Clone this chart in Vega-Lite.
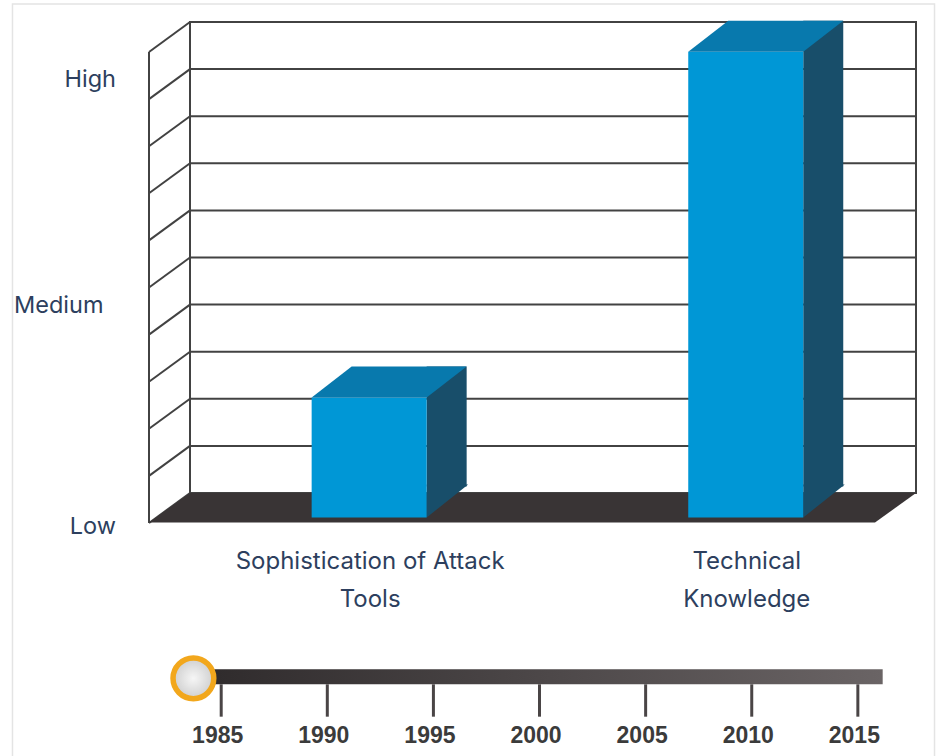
{
  "$schema": "https://vega.github.io/schema/vega-lite/v6.json",
  "width": 726,
  "height": 471,
  "autosize": {"type": "none"},
  "padding": {"left": 190, "top": 22, "right": 21, "bottom": 263},
  "background": "#ffffff",
  "config": {"view": {"stroke": "#424242", "strokeWidth": 2}},
  "datasets": {
    "bars": [
      {"category": "Sophistication of Attack Tools", "label": "Sophistication of Attack\nTools", "value": 2.55},
      {"category": "Technical Knowledge", "label": "Technical\nKnowledge", "value": 9.89}
    ],
    "levels": [
      {"level": 0}, {"level": 1}, {"level": 2}, {"level": 3}, {"level": 4}, {"level": 5},
      {"level": 6}, {"level": 7}, {"level": 8}, {"level": 9}, {"level": 10}
    ],
    "years": [
      {"year": 1985}, {"year": 1990}, {"year": 1995}, {"year": 2000},
      {"year": 2005}, {"year": 2010}, {"year": 2015}
    ],
    "edgeLabels": [
      {"label": "High", "level": 8.77},
      {"label": "Low", "level": -0.72}
    ],
    "midLabel": [
      {"label": "Medium", "level": 3.97}
    ]
  },
  "resolve": {"scale": {"x": "independent"}, "axis": {"x": "independent"}},
  "layer": [
    {
      "layer": [
        {
          "data": {"values": [{}]},
          "mark": {"type": "rect", "fill": null, "fillOpacity": 0, "stroke": "#e4e4e4", "strokeWidth": 1.5},
          "encoding": {
            "x": {"datum": -0.2445, "type": "quantitative", "scale": {"domain": [0, 1], "nice": false, "zero": false}, "axis": null},
            "x2": {"datum": 1.0255},
            "y": {"datum": 10.382, "type": "quantitative", "scale": {"domain": [0, 10], "nice": false, "zero": false}, "axis": null},
            "y2": {"datum": -6}
          }
        },
        {
          "data": {"name": "levels"},
          "mark": {"type": "rule", "color": "#424242", "strokeWidth": 2},
          "encoding": {
            "x": {"datum": 0, "type": "quantitative", "scale": {"domain": [0, 1], "nice": false, "zero": false}, "axis": null},
            "x2": {"datum": 1},
            "y": {"field": "level", "type": "quantitative", "scale": {"domain": [0, 10], "nice": false, "zero": false}, "axis": null}
          }
        },
        {
          "data": {"name": "levels"},
          "mark": {"type": "rule", "color": "#424242", "strokeWidth": 2, "x2Offset": -41, "y2Offset": 30},
          "encoding": {
            "x": {"datum": 0, "type": "quantitative", "scale": {"domain": [0, 1], "nice": false, "zero": false}, "axis": null},
            "x2": {"datum": 0},
            "y": {"field": "level", "type": "quantitative", "scale": {"domain": [0, 10], "nice": false, "zero": false}, "axis": null},
            "y2": {"field": "level"}
          }
        },
        {
          "data": {"values": [{}]},
          "mark": {"type": "rule", "color": "#424242", "strokeWidth": 2, "xOffset": -41, "yOffset": 30, "y2Offset": 30},
          "encoding": {
            "x": {"datum": 0, "type": "quantitative", "scale": {"domain": [0, 1], "nice": false, "zero": false}, "axis": null},
            "y": {"datum": 10, "type": "quantitative", "scale": {"domain": [0, 10], "nice": false, "zero": false}, "axis": null},
            "y2": {"datum": 0}
          }
        },
        {
          "data": {"values": [{}]},
          "mark": {"type": "point", "shape": "M0,0 L726,0 L685,29.5 L-41,29.5 Z", "size": 4, "filled": true, "opacity": 1, "color": "#393435", "strokeWidth": 0},
          "encoding": {
            "x": {"datum": 0, "type": "quantitative", "scale": {"domain": [0, 1], "nice": false, "zero": false}, "axis": null},
            "y": {"datum": 0, "type": "quantitative", "scale": {"domain": [0, 10], "nice": false, "zero": false}, "axis": null}
          }
        },
        {
          "data": {"name": "edgeLabels"},
          "mark": {"type": "text", "align": "right", "baseline": "middle", "font": "Inter", "fontSize": 23.5, "color": "#2d3f5e"},
          "encoding": {
            "x": {"datum": -0.1019, "type": "quantitative", "scale": {"domain": [0, 1], "nice": false, "zero": false}, "axis": null},
            "y": {"field": "level", "type": "quantitative", "scale": {"domain": [0, 10], "nice": false, "zero": false}, "axis": null},
            "text": {"field": "label"}
          }
        },
        {
          "data": {"name": "midLabel"},
          "mark": {"type": "text", "align": "right", "baseline": "middle", "font": "Inter", "fontSize": 23.5, "color": "#2d3f5e"},
          "encoding": {
            "x": {"datum": -0.1191, "type": "quantitative", "scale": {"domain": [0, 1], "nice": false, "zero": false}, "axis": null},
            "y": {"field": "level", "type": "quantitative", "scale": {"domain": [0, 10], "nice": false, "zero": false}, "axis": null},
            "text": {"field": "label"}
          }
        }
      ]
    },
    {
      "data": {"name": "bars"},
      "layer": [
        {
          "mark": {"type": "bar", "width": 40, "xOffset": 77.5, "yOffset": -6.5, "y2Offset": -6.5, "color": "#184e6a"},
          "encoding": {
            "x": {"field": "category", "type": "nominal", "scale": {"domain": ["Sophistication of Attack Tools", "Technical Knowledge"], "paddingInner": 0.6946, "paddingOuter": 0.3112, "align": 0.519}, "axis": null},
            "y": {"field": "value", "type": "quantitative", "scale": {"domain": [0, 10], "nice": false, "zero": false}, "axis": null},
            "y2": {"datum": 0}
          }
        },
        {
          "mark": {"type": "point", "shape": "M57.5,0 L57.5,-33 L99,-33 Z", "size": 4, "filled": true, "opacity": 1, "color": "#184e6a", "strokeWidth": 0, "yOffset": 24.5},
          "encoding": {
            "x": {"field": "category", "type": "nominal", "scale": {"domain": ["Sophistication of Attack Tools", "Technical Knowledge"], "paddingInner": 0.6946, "paddingOuter": 0.3112, "align": 0.519}, "axis": null},
            "y": {"datum": 0, "type": "quantitative", "scale": {"domain": [0, 10], "nice": false, "zero": false}, "axis": null}
          }
        },
        {
          "mark": {"type": "bar", "yOffset": 24.5, "y2Offset": 24.5, "color": "#0097d6"},
          "encoding": {
            "x": {"field": "category", "type": "nominal", "scale": {"domain": ["Sophistication of Attack Tools", "Technical Knowledge"], "paddingInner": 0.6946, "paddingOuter": 0.3112, "align": 0.519}, "axis": null},
            "y": {"field": "value", "type": "quantitative", "scale": {"domain": [0, 10], "nice": false, "zero": false}, "axis": null},
            "y2": {"datum": 0}
          }
        },
        {
          "mark": {"type": "point", "shape": "M-57.5,0 L57.5,0 L97.5,-31 L-17.5,-31 Z", "size": 4, "filled": true, "opacity": 1, "color": "#0879ad", "strokeWidth": 0, "yOffset": 24.5},
          "encoding": {
            "x": {"field": "category", "type": "nominal", "scale": {"domain": ["Sophistication of Attack Tools", "Technical Knowledge"], "paddingInner": 0.6946, "paddingOuter": 0.3112, "align": 0.519}, "axis": null},
            "y": {"field": "value", "type": "quantitative", "scale": {"domain": [0, 10], "nice": false, "zero": false}, "axis": null}
          }
        },
        {
          "mark": {"type": "text", "align": "center", "baseline": "alphabetic", "dx": 1, "lineBreak": "\n", "lineHeight": 38, "font": "Inter", "fontSize": 24, "color": "#2d3f5e"},
          "encoding": {
            "x": {"field": "category", "type": "nominal", "scale": {"domain": ["Sophistication of Attack Tools", "Technical Knowledge"], "paddingInner": 0.6946, "paddingOuter": 0.3112, "align": 0.519}, "axis": null},
            "y": {"datum": -1.614, "type": "quantitative", "scale": {"domain": [0, 10], "nice": false, "zero": false}, "axis": null},
            "text": {"field": "label"}
          }
        }
      ]
    },
    {
      "layer": [
        {
          "data": {"values": [{}]},
          "mark": {
            "type": "rect",
            "fill": {"gradient": "linear", "x1": 0, "y1": 0, "x2": 1, "y2": 0, "stops": [{"offset": 0, "color": "#2e2a2b"}, {"offset": 1, "color": "#6a6465"}]}
          },
          "encoding": {
            "x": {"datum": 1983.7, "type": "quantitative", "scale": {"domain": [1983.53, 2017.74], "nice": false, "zero": false}, "axis": null},
            "x2": {"datum": 2016.17},
            "y": {"datum": -3.743, "type": "quantitative", "scale": {"domain": [0, 10], "nice": false, "zero": false}, "axis": null},
            "y2": {"datum": -4.062}
          }
        },
        {
          "data": {"name": "years"},
          "mark": {"type": "rule", "color": "#4a4546", "strokeWidth": 3},
          "encoding": {
            "x": {"field": "year", "type": "quantitative", "scale": {"domain": [1983.53, 2017.74], "nice": false, "zero": false}, "axis": null},
            "y": {"datum": -4.062, "type": "quantitative", "scale": {"domain": [0, 10], "nice": false, "zero": false}, "axis": null},
            "y2": {"datum": -4.749}
          }
        },
        {
          "data": {"name": "years"},
          "mark": {"type": "text", "align": "center", "baseline": "alphabetic", "dx": -3.5, "font": "Liberation Sans", "fontSize": 23, "fontWeight": "bold", "color": "#3b3b3b"},
          "encoding": {
            "x": {"field": "year", "type": "quantitative", "scale": {"domain": [1983.53, 2017.74], "nice": false, "zero": false}, "axis": null},
            "y": {"datum": -5.308, "type": "quantitative", "scale": {"domain": [0, 10], "nice": false, "zero": false}, "axis": null},
            "text": {"field": "year", "type": "nominal"}
          }
        },
        {
          "data": {"values": [{}]},
          "mark": {
            "type": "point", "shape": "circle", "size": 1660, "opacity": 1,
            "fill": {"gradient": "radial", "stops": [{"offset": 0, "color": "#f6f6f6"}, {"offset": 1, "color": "#cfcfcf"}]},
            "stroke": "#f2a71c", "strokeWidth": 5.5
          },
          "encoding": {
            "x": {"datum": 1983.69, "type": "quantitative", "scale": {"domain": [1983.53, 2017.74], "nice": false, "zero": false}, "axis": null},
            "y": {"datum": -3.934, "type": "quantitative", "scale": {"domain": [0, 10], "nice": false, "zero": false}, "axis": null}
          }
        }
      ]
    }
  ]
}
